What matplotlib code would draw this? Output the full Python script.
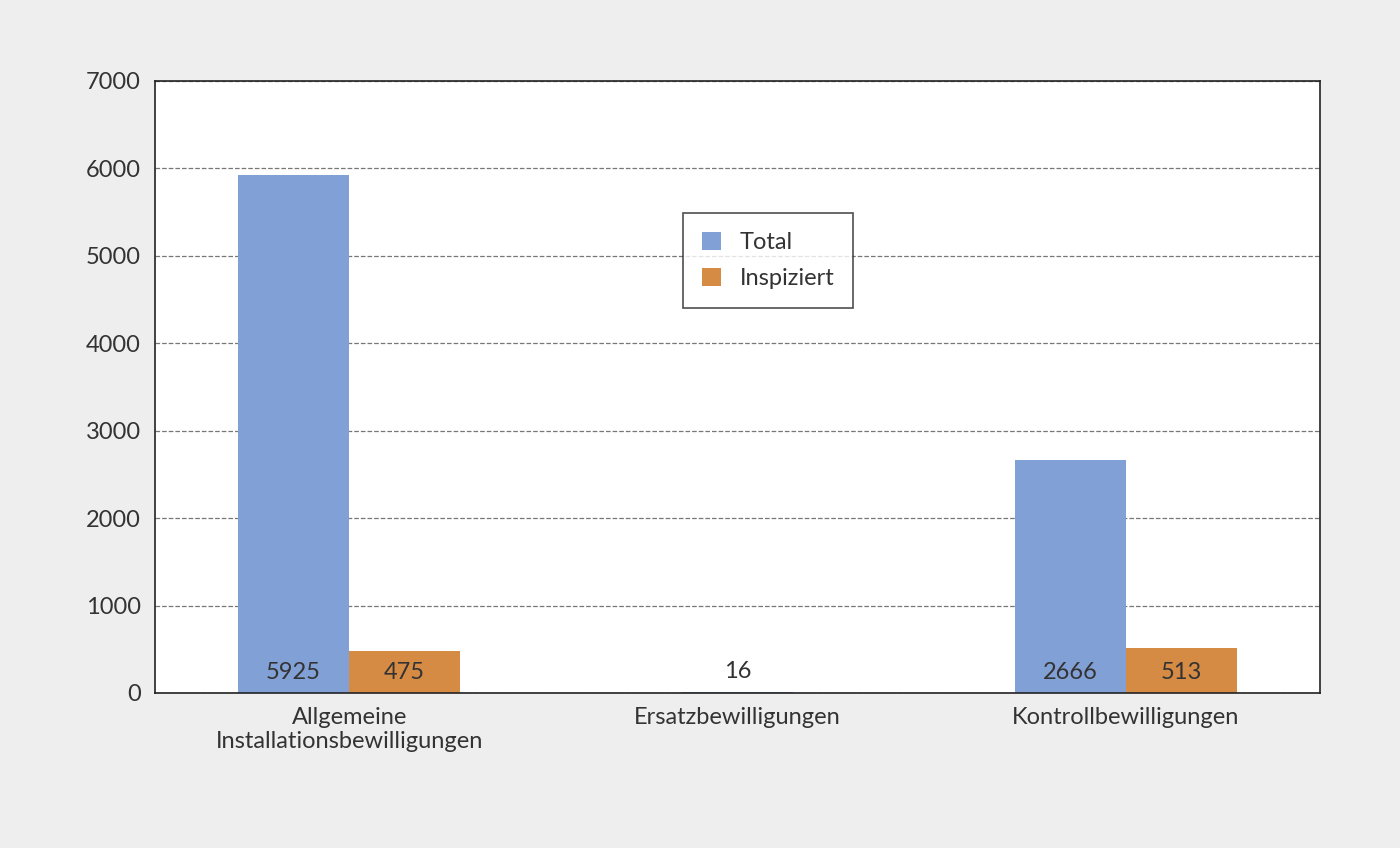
import numpy as np
from matplotlib import pyplot as plt

plt.rcParams['font.family'] = ['Lato', 'DejaVu Sans']

categories = ['Allgemeine\nInstallationsbewilligungen', 'Ersatzbewilligungen', 'Kontrollbewilligungen']
total = [5925, 16, 2666]
inspiziert = [475, None, 513]

blue = '#81a0d6'
orange = '#d68b45'
width = 0.286

fig = plt.figure(figsize=(14, 8.48), dpi=100, facecolor='#eeeeee')
ax = fig.add_axes([0.1107, 0.1828, 0.8322, 0.7217])
ax.set_facecolor('white')

x = np.arange(len(categories))
for i in range(len(categories)):
    if inspiziert[i] is None:
        ax.bar(x[i], total[i], width, color=blue, label='Total' if i == 0 else None)
        ax.text(x[i], 120, str(total[i]), ha='center', va='bottom', fontsize=17, color='#333333')
    else:
        ax.bar(x[i] - width / 2, total[i], width, color=blue, label='Total' if i == 0 else None)
        ax.bar(x[i] + width / 2, inspiziert[i], width, color=orange,
               label='Inspiziert' if i == 0 else None)
        ax.text(x[i] - width / 2, 240, str(total[i]), ha='center', va='center', fontsize=17, color='#333333')
        ax.text(x[i] + width / 2, 240, str(inspiziert[i]), ha='center', va='center', fontsize=17, color='#333333')

ax.set_xlim(-0.5, 2.5)
ax.set_ylim(0, 7000)
ax.set_yticks(range(0, 7001, 1000))
ax.set_xticks(x, categories)
ax.yaxis.grid(True, linestyle='--', color='#777777', linewidth=0.9)
ax.set_axisbelow(True)
ax.tick_params(axis='both', length=0, labelsize=17, colors='#333333', pad=10)
for s in ax.spines.values():
    s.set_color('#222222')
    s.set_linewidth(1.2)

leg = ax.legend(loc='upper left', bbox_to_anchor=(0.443, 0.803), fontsize=17,
                frameon=True, fancybox=False, edgecolor='#222222',
                handlelength=0.8, handleheight=0.8, borderpad=0.8, labelspacing=0.6)
leg.get_frame().set_linewidth(1.2)
for t in leg.get_texts():
    t.set_color('#333333')

plt.savefig('out.png', dpi=100, facecolor=fig.get_facecolor())
